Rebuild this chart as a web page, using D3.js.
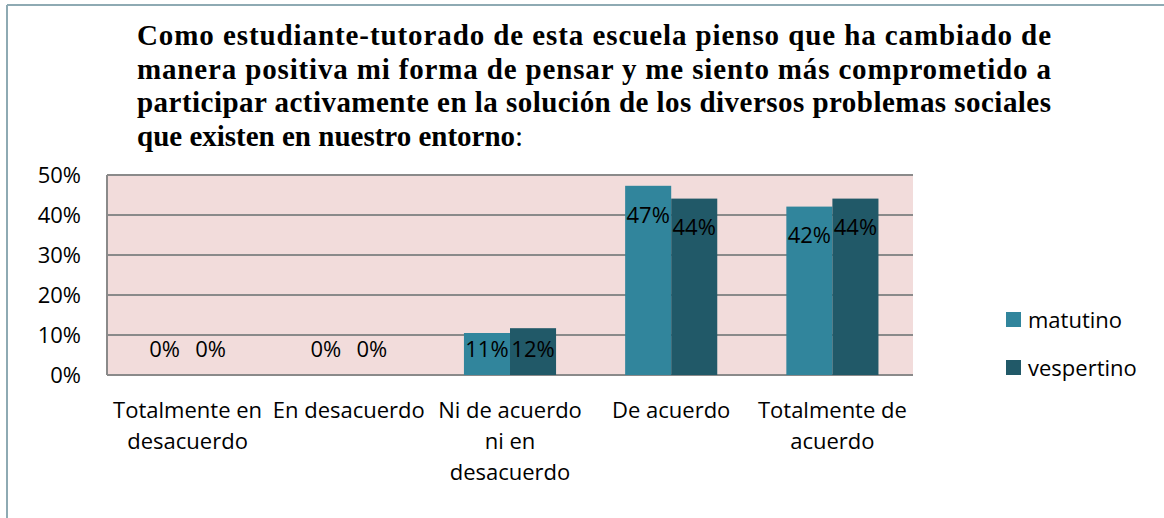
<!DOCTYPE html>
<html>
<head>
<meta charset="utf-8">
<script src="https://cdn.jsdelivr.net/npm/d3@7"></script>
<style>
  body { margin: 0; background: #fff; }
  svg { display: block; }
</style>
</head>
<body>
<svg id="chart" width="1164" height="518"></svg>
<script>
// title lines as they are broken in the original
const titleLines = [
  'Como estudiante-tutorado de esta escuela pienso que ha cambiado de',
  'manera positiva mi forma de pensar y me siento más comprometido a',
  'participar activamente en la solución de los diversos problemas sociales',
  'que existen en nuestro entorno'
]
const categories = ['Totalmente en desacuerdo', 'En desacuerdo', 'Ni de acuerdo ni en desacuerdo', 'De acuerdo', 'Totalmente de acuerdo']
const categoryLines = [
  ['Totalmente en', 'desacuerdo'],
  ['En desacuerdo'],
  ['Ni de acuerdo', 'ni en', 'desacuerdo'],
  ['De acuerdo'],
  ['Totalmente de', 'acuerdo']
]
const seriesNames = ['matutino', 'vespertino']
const matutino = [0, 0, 0.105, 0.473, 0.421]
const vespertino = [0, 0, 0.117, 0.441, 0.441]
const yTicks = [0, 0.1, 0.2, 0.3, 0.4, 0.5]

const colors = ['#31859c', '#215968']
const font = '"Open Sans", "Noto Sans", sans-serif'

const svg = d3.select('#chart')
const plot = { left: 107, right: 913, top: 175, bottom: 375 }

// outer frame (only top and left edges show in the crop)
svg.append('line').attr('x1', 7).attr('x2', 1164).attr('y1', 5).attr('y2', 5)
  .attr('stroke', '#8eaab3').attr('stroke-width', 2)
svg.append('line').attr('x1', 7).attr('x2', 7).attr('y1', 5).attr('y2', 518)
  .attr('stroke', '#8eaab3').attr('stroke-width', 2)

// title, justified except the last line
const title = svg.append('g').attr('font-family', '"Liberation Serif", "Times New Roman", serif')
  .attr('font-weight', 'bold').attr('font-size', 29)
titleLines.forEach((line, i) => {
  const t = title.append('text').attr('x', 137).attr('y', 45 + i * 33.5)
  if (i < titleLines.length - 1) {
    t.attr('textLength', 914).attr('lengthAdjust', 'spacing').text(line)
  } else {
    t.text(line)
    t.append('tspan').attr('font-weight', 'normal').text(':')
  }
})

const x0 = d3.scaleBand().domain(categories).range([plot.left, plot.right])
const x1 = d3.scaleBand().domain(seriesNames).range([0, x0.bandwidth()]).paddingInner(0).paddingOuter(0.75)
const y = d3.scaleLinear().domain([0, 0.5]).range([plot.bottom, plot.top])

svg.append('rect')
  .attr('x', plot.left).attr('y', plot.top)
  .attr('width', plot.right - plot.left).attr('height', plot.bottom - plot.top)
  .attr('fill', '#f2dcdb')

// gridlines
svg.append('g').selectAll('line').data(yTicks).join('line')
  .attr('x1', plot.left).attr('x2', plot.right)
  .attr('y1', d => y(d)).attr('y2', d => y(d))
  .attr('stroke', '#8a8a8a').attr('stroke-width', 2)
svg.append('line').attr('x1', plot.left).attr('x2', plot.left)
  .attr('y1', plot.top).attr('y2', plot.bottom)
  .attr('stroke', '#8a8a8a').attr('stroke-width', 2)

// y axis labels
const yAxis = svg.append('g').attr('transform', `translate(${plot.left - 26},0)`)
  .call(d3.axisLeft(y).tickValues(yTicks).tickFormat(d3.format('.0%')).tickSize(0))
yAxis.select('.domain').remove()
yAxis.selectAll('text').attr('font-family', font).attr('font-size', 22).attr('fill', '#000').attr('x', 0)

const data = categories.map((c, i) => ({ cat: c, values: [matutino[i], vespertino[i]] }))

const groups = svg.append('g').selectAll('g').data(data).join('g')
  .attr('transform', d => `translate(${x0(d.cat)},0)`)

groups.selectAll('rect').data(d => d.values.map((v, j) => ({ v, s: seriesNames[j], j })))
  .join('rect')
  .attr('x', d => x1(d.s))
  .attr('y', d => y(d.v))
  .attr('width', x1.bandwidth())
  .attr('height', d => y(0) - y(d.v))
  .attr('fill', d => colors[d.j])

groups.selectAll('text').data(d => d.values.map((v, j) => ({ v, s: seriesNames[j] })))
  .join('text')
  .attr('x', d => x1(d.s) + x1.bandwidth() / 2)
  .attr('y', d => Math.min(y(d.v) + 29, 349))
  .attr('dy', '0.35em')
  .attr('text-anchor', 'middle')
  .attr('font-family', font).attr('font-size', 22)
  .text(d => d3.format('.0%')(d.v))

// category labels
const xLabels = svg.append('g').attr('font-family', font).attr('font-size', 22).attr('text-anchor', 'middle')
categories.forEach((c, i) => {
  const t = xLabels.append('text').attr('x', x0(c) + x0.bandwidth() / 2).attr('y', 418)
  categoryLines[i].forEach((line, k) => {
    t.append('tspan').attr('x', x0(c) + x0.bandwidth() / 2).attr('dy', k === 0 ? 0 : 31).text(line)
  })
})

// legend
const legend = svg.append('g').attr('transform', 'translate(1006,312)')
seriesNames.forEach((s, i) => {
  const g = legend.append('g').attr('transform', `translate(0,${i * 48})`)
  g.append('rect').attr('width', 15).attr('height', 15).attr('fill', colors[i])
  g.append('text').attr('x', 22).attr('y', 8).attr('dy', '0.35em')
    .attr('font-family', font).attr('font-size', 22).text(s)
})
</script>
</body>
</html>
